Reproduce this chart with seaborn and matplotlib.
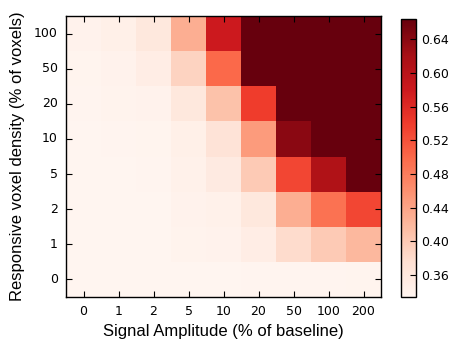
import numpy as np
import pandas as pd
import matplotlib
matplotlib.use("Agg")
import matplotlib.pyplot as plt
import seaborn as sns

# categories
amplitudes = ["0", "1", "2", "5", "10", "20", "50", "100", "200"]
densities = ["100", "50", "20", "10", "5", "2", "1", "0"]

# values, one list per row (top to bottom)
row_100 = [0.340, 0.345, 0.360, 0.430, 0.580, 0.700, 0.700, 0.700, 0.700]
row_50 = [0.337, 0.340, 0.350, 0.390, 0.500, 0.700, 0.700, 0.700, 0.700]
row_20 = [0.336, 0.338, 0.340, 0.360, 0.410, 0.540, 0.700, 0.700, 0.700]
row_10 = [0.335, 0.336, 0.337, 0.345, 0.370, 0.450, 0.640, 0.700, 0.700]
row_5 = [0.335, 0.335, 0.336, 0.342, 0.355, 0.400, 0.530, 0.610, 0.700]
row_2 = [0.335, 0.335, 0.335, 0.340, 0.343, 0.360, 0.430, 0.490, 0.530]
row_1 = [0.335, 0.335, 0.335, 0.338, 0.340, 0.350, 0.380, 0.400, 0.420]
row_0 = [0.335, 0.335, 0.335, 0.335, 0.335, 0.336, 0.336, 0.336, 0.337]

data = pd.DataFrame([row_100, row_50, row_20, row_10, row_5, row_2, row_1, row_0],
                    index=densities, columns=amplitudes)

fig = plt.figure(figsize=(4.5, 3.44), dpi=100)
ax = fig.add_axes([0.1467, 0.1366, 0.70, 0.8169])
cax = fig.add_axes([0.891, 0.1366, 0.0333, 0.808])

sns.heatmap(data, ax=ax, cbar_ax=cax, cmap="Reds", vmin=0.334, vmax=0.664,
            cbar_kws={"ticks": [0.36, 0.40, 0.44, 0.48, 0.52, 0.56, 0.60, 0.64]})

# classic look: frame all round, ticks pointing in
for s in ax.spines.values():
    s.set_visible(True)
    s.set_color("black")
    s.set_linewidth(1.0)
ax.tick_params(direction="in", top=True, right=True, length=4, width=0.8,
               labelsize=9, pad=6)
ax.set_xticklabels(amplitudes, rotation=0)
ax.set_yticklabels(densities, rotation=0)

ax.set_xlabel("Signal Amplitude (% of baseline)", fontsize=12,
              family=["Liberation Sans", "DejaVu Sans"], labelpad=4)
ax.set_ylabel("Responsive voxel density (% of voxels)", fontsize=12,
              family=["Liberation Sans", "DejaVu Sans"], labelpad=6)

cb = ax.collections[0].colorbar
cb.outline.set_visible(True)
cb.outline.set_linewidth(1.0)
cb.outline.set_edgecolor("black")
cax.tick_params(direction="in", length=4, width=0.8, labelsize=9, pad=4)
cax.set_yticklabels(["0.36", "0.40", "0.44", "0.48", "0.52", "0.56", "0.60", "0.64"])

fig.savefig("out.png", dpi=100)
